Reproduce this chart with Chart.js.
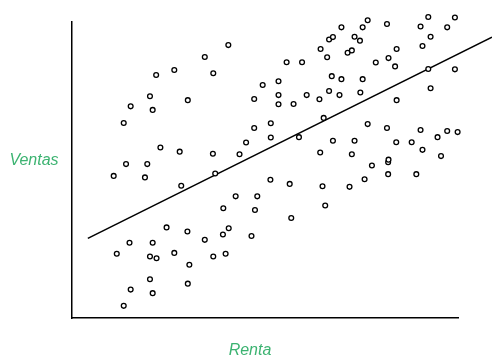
<!DOCTYPE html>
<html>
<head>
<meta charset="utf-8">
<script src="https://cdn.jsdelivr.net/npm/chart.js@4/dist/chart.umd.min.js"></script>
<style>
  body { margin: 0; background: #fff; }
</style>
</head>
<body>
<canvas id="grafico" width="492" height="360"></canvas>
<script>
// Renta (eje x) y Ventas (eje y)
var renta = [40.5, 34.4, 26.5, 21.8, 36.6, 20.2, 15.2, 20.9, 30.0, 13.4,
  49.4, 53.5, 47.2, 53.5, 53.5, 47.2, 51.5, 45.1, 51.5, 43.4,
  22.9, 27.9, 36.5, 14.0, 19.5, 10.8, 18.9, 28.3, 37.1, 51.4,
  42.4, 48.0, 39.2, 47.4, 24.5, 29.9, 40.6, 39.1, 46.5, 34.4,
  14.9, 20.9, 11.6, 20.2, 21.9, 26.5, 36.6, 39.8, 30.4, 20.2,
  30.0, 15.2, 20.9, 13.4, 56.4, 64.9, 71.9, 75.8, 77.7, 81.9,
  81.9, 89.2, 65.6, 56.8, 78.7, 83.7, 76.6, 69.8, 75.3, 81.6,
  92.3, 99.2, 90.3, 97.2, 66.6, 67.6, 73.2, 74.6, 92.9, 64.4,
  71.4, 72.5, 84.1, 90.8, 66.1, 82.0, 55.6, 59.6, 78.7, 83.7,
  92.3, 99.2, 67.3, 69.8, 75.3, 60.8, 66.6, 64.1, 69.3, 74.7,
  57.4, 92.9, 84.1, 65.2, 58.8, 76.6, 81.6, 67.6, 73.2, 64.3,
  72.5, 84.0, 88.0, 90.3, 94.7, 97.2, 99.9, 90.8, 95.6, 82.0];
var ventas = [92.2, 88.2, 83.8, 82.1, 82.7, 74.9, 71.5, 70.3, 73.6, 65.9,
  78.7, 80.0, 74.0, 75.3, 72.2, 64.2, 65.8, 59.3, 61.0, 55.3,
  57.6, 56.2, 55.5, 52.0, 52.0, 48.0, 47.5, 44.7, 48.8, 46.7,
  41.1, 41.1, 37.1, 36.5, 30.6, 29.2, 30.3, 28.2, 27.7, 26.4,
  25.4, 25.4, 21.7, 20.8, 20.2, 22.0, 20.8, 21.7, 18.0, 13.1,
  11.6, 9.6, 8.4, 4.1, 45.3, 44.5, 44.3, 46.9, 51.5, 52.6,
  48.6, 48.6, 38.0, 33.8, 103.7, 102.4, 100.6, 98.2, 98.2, 99.3,
  101.7, 101.5, 98.5, 98.2, 94.1, 94.9, 95.0, 93.7, 95.0, 90.9,
  89.6, 90.4, 90.9, 91.9, 88.1, 87.8, 86.4, 86.4, 86.3, 85.0,
  84.1, 84.0, 81.7, 80.7, 80.7, 75.3, 76.7, 73.9, 75.3, 76.2,
  72.3, 77.6, 73.6, 67.6, 61.1, 65.5, 64.2, 59.9, 59.9, 55.9,
  55.3, 59.4, 59.4, 63.5, 61.1, 63.2, 62.8, 56.8, 54.7, 53.5];

// recta de regresión (extremos)
var lineaX = [4.1, 108.8];
var lineaY = [26.9, 94.9];

var puntos = renta.map(function (r, i) { return { x: r, y: ventas[i] }; });
var recta = lineaX.map(function (r, i) { return { x: r, y: lineaY[i] }; });

var verde = '#3cb371';

var titulos = {
  id: 'titulos',
  afterDraw: function (chart) {
    var c = chart.ctx;
    c.save();
    c.fillStyle = verde;
    c.font = 'italic 16px "Liberation Sans", Arial, sans-serif';
    c.textAlign = 'center';
    c.textBaseline = 'middle';
    c.fillText('Ventas', 34, 161);
    c.fillText('Renta', 250, 351);
    c.restore();
  }
};

var ctx = document.getElementById('grafico').getContext('2d');
var miGrafico = new Chart(ctx, {
  type: 'scatter',
  data: {
    datasets: [{
      data: puntos,
      clip: false,
      pointStyle: 'circle',
      pointRadius: 2.4,
      borderWidth: 1.3,
      borderColor: '#000',
      backgroundColor: '#fff'
    }, {
      type: 'line',
      data: recta,
      clip: false,
      showLine: true,
      pointRadius: 0,
      borderWidth: 1.5,
      borderColor: '#000',
      fill: false
    }]
  },
  options: {
    responsive: false,
    animation: false,
    layout: { autoPadding: false, padding: { left: 64, top: 22, right: 34, bottom: 34 } },
    plugins: { legend: { display: false }, tooltip: { enabled: false } },
    scales: {
      x: {
        min: 0, max: 100,
        grid: { display: false },
        ticks: { display: false },
        border: { display: true, color: '#000', width: 1.5 }
      },
      y: {
        min: 0, max: 100,
        grid: { display: false },
        ticks: { display: false },
        border: { display: true, color: '#000', width: 1.5 }
      }
    }
  },
  plugins: [titulos]
});
</script>
</body>
</html>
